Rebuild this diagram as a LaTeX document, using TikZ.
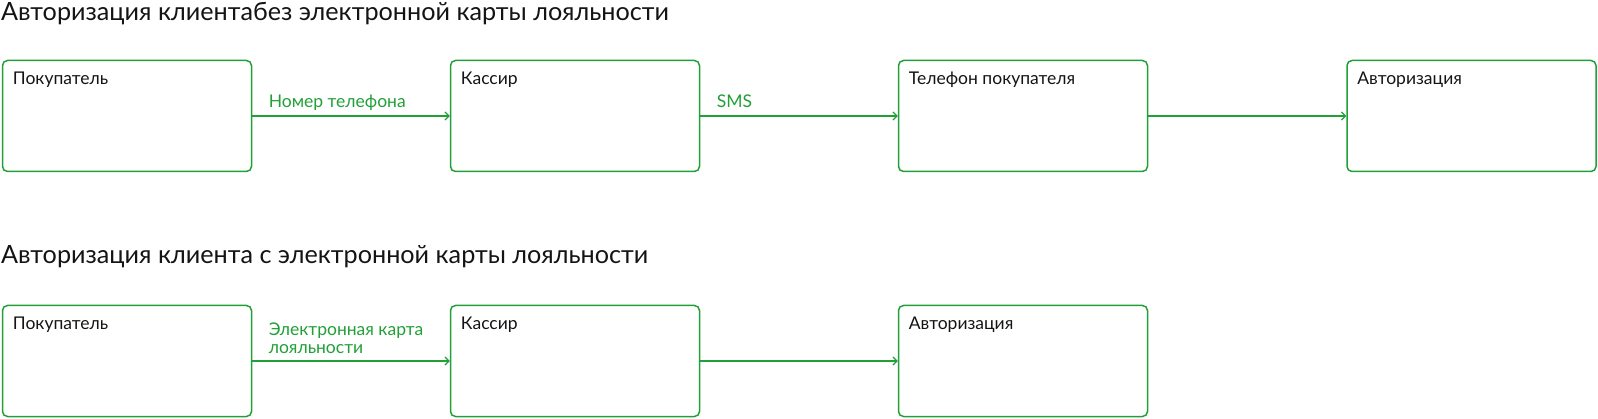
\documentclass[tikz,border=0pt]{standalone}
\usepackage{fontspec}
\setmainfont{Lato}
\usetikzlibrary{positioning}
\usetikzlibrary{arrows.meta}

\definecolor{sbgreen}{RGB}{33,160,56}
\definecolor{ink}{RGB}{20,20,20}

\begin{document}
\begin{tikzpicture}[x=1pt,y=-1pt]
\tikzset{>={Straight Barb[length=4pt,width=8pt]}}
\tikzset{
  box/.style={draw=sbgreen,line width=1.5pt,rounded corners=5pt,
    minimum width=249pt,minimum height=111pt,inner sep=0pt},
  boxtext/.style={anchor=base west,inner sep=0pt,xshift=11pt,yshift=-24.5pt,
    font=\fontsize{17.5}{20}\selectfont,text=ink},
  flow/.style={->,draw=sbgreen,line width=1.1pt},
  flowtext/.style={inner sep=0pt,font=\fontsize{17.5}{17.5}\selectfont,text=sbgreen,align=left},
  headline/.style={anchor=base west,inner sep=0pt,font=\fontsize{25.2}{30}\selectfont,text=ink}
}

\useasboundingbox (0,0) rectangle (1598,419);

% without card
\node[headline] (title1) at (1,21) {Авторизация клиентабез электронной карты лояльности};

\node[box,label={[boxtext]north west:Покупатель}] (buyer1) at (127,116) {};
\node[box,label={[boxtext]north west:Кассир}] (cashier1) at (575,116) {};
\node[box,label={[boxtext]north west:Телефон покупателя}] (phone1) at (1023,116) {};
\node[box,label={[boxtext]north west:Авторизация}] (auth1) at (1471.5,116) {};

\draw[flow] (buyer1) -- (cashier1)
  node[flowtext,pos=0,anchor=base west,xshift=16pt,yshift=8pt] (phonenum) {Номер телефона};
\draw[flow] (cashier1) -- (phone1)
  node[flowtext,pos=0,anchor=base west,xshift=16pt,yshift=8pt] (sms) {SMS};
\draw[flow] (phone1) -- (auth1);

% with card
\node[headline] (title2) at (1,264) {Авторизация клиента с электронной карты лояльности};

\node[box,label={[boxtext]north west:Покупатель}] (buyer2) at (127,361) {};
\node[box,label={[boxtext]north west:Кассир}] (cashier2) at (575,361) {};
\node[box,label={[boxtext]north west:Авторизация}] (auth2) at (1023,361) {};

\draw[flow] (buyer2) -- (cashier2)
  node[flowtext,pos=0,anchor=south west,text depth=0pt,xshift=16pt,yshift=7pt] (cardname) {Электронная карта\\лояльности};
\draw[flow] (cashier2) -- (auth2);

\end{tikzpicture}
\end{document}
